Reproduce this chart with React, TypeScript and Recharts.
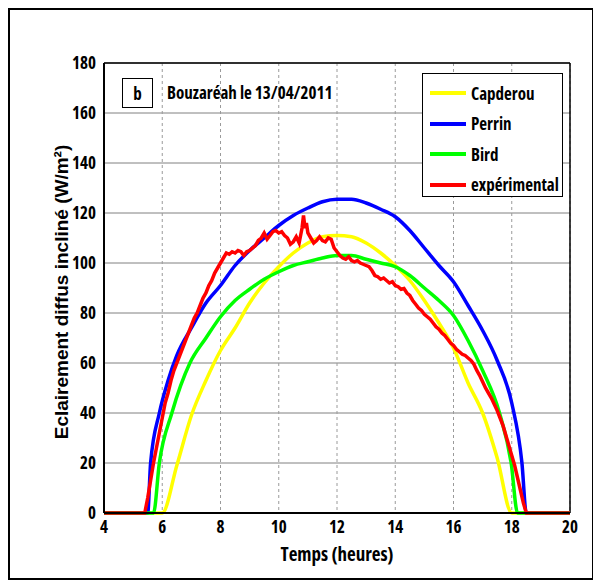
import { LineChart, Line, XAxis, YAxis, CartesianGrid, ReferenceLine } from 'recharts';

// axis ticks
const hourTicks = [4, 6, 8, 10, 12, 14, 16, 18, 20];
const valueTicks = [0, 20, 40, 60, 80, 100, 120, 140, 160, 180];

// Capderou model
const capderouT = [4, 6.0, 6.5, 7.0, 7.5, 8.0, 8.5, 9.0, 9.5, 10.0, 10.5, 11.0, 11.5, 12.0, 12.5, 13.0, 13.5, 14.0, 14.5, 15.0, 15.5, 16.0, 16.5, 17.0, 17.5, 18.0, 20];
const capderouV = [0, 0, 19, 39, 53, 65, 74, 84, 92, 98.5, 104, 108, 110.5, 111, 110.5, 108, 104, 99, 93, 85, 76, 66, 52, 40, 22, 0, 0];

// Perrin model
const perrinT = [4, 5.5, 5.6, 5.9, 6.2, 6.5, 7.0, 7.5, 8.0, 8.5, 9.0, 9.5, 10.0, 10.5, 11.0, 11.5, 12.0, 12.5, 13.0, 13.5, 14.0, 14.5, 15.0, 15.5, 16.0, 16.5, 17.0, 17.5, 18.0, 18.35, 18.5, 20];
const perrinV = [0, 0, 20, 40, 53, 63, 74, 84, 91, 99, 105, 110, 115, 119, 122, 124.5, 125.5, 125.5, 124, 121.5, 118.5, 113, 106, 99, 92.5, 83, 73, 61, 44, 20, 0, 0];

// Bird model
const birdT = [4, 5.7, 5.9, 6.33, 6.95, 7.5, 8.0, 8.5, 9.0, 9.5, 10.0, 10.5, 11.0, 11.5, 12.0, 12.5, 13.0, 13.5, 14.0, 14.5, 15.0, 15.5, 16.0, 16.5, 17.0, 17.58, 17.98, 18.2, 20];
const birdV = [0, 0, 20, 40, 60, 70, 78.5, 85, 89.5, 93.5, 96.5, 99, 100.5, 102, 103, 103, 101.5, 100, 98.5, 95, 90, 85, 79, 69, 57, 40, 20, 0, 0];

// experimental measurements
const expT = [
  4, 5.4, 5.5, 5.6, 5.7, 5.8, 5.9, 6.0, 6.1, 6.2, 6.3, 6.4, 6.5, 6.6, 6.7, 6.8, 6.9, 7.0, 7.1, 7.2, 7.3, 7.4, 7.5, 7.6, 7.7, 7.8, 7.9,
  8.0, 8.1, 8.2, 8.3, 8.4, 8.5, 8.6, 8.7, 8.8, 8.9, 9.0, 9.1, 9.2, 9.3, 9.4, 9.5, 9.6, 9.7, 9.8, 9.9,
  10.0, 10.1, 10.2, 10.3, 10.4, 10.5, 10.6, 10.7, 10.8, 10.85, 10.9, 10.95, 11.0, 11.1, 11.2, 11.3, 11.4, 11.5, 11.6, 11.7, 11.8, 11.9,
  12.0, 12.1, 12.2, 12.3, 12.4, 12.5, 12.6, 12.7, 12.8, 12.9, 13.0, 13.1, 13.2, 13.3, 13.4, 13.5, 13.6, 13.7, 13.8, 13.9,
  14.0, 14.1, 14.2, 14.3, 14.4, 14.5, 14.6, 14.7, 14.8, 14.9, 15.0, 15.1, 15.2, 15.3, 15.4, 15.5, 15.6, 15.7, 15.8, 15.9,
  16.0, 16.1, 16.2, 16.3, 16.4, 16.5, 16.6, 16.7, 16.8, 16.9, 17.0, 17.1, 17.2, 17.3, 17.4, 17.5, 17.6, 17.7, 17.8, 17.9,
  18.0, 18.1, 18.2, 18.3, 18.4, 18.5, 20,
];
const expV = [
  0, 0, 6, 13, 20, 26, 32, 38, 44, 48, 53, 57, 60, 63, 66, 69, 72, 75, 78, 80, 83, 86, 88, 91, 93, 96, 98,
  100, 102, 104, 103.5, 104.5, 104, 105, 104.5, 103, 104.5, 105, 106, 107, 109, 110, 112, 109.5, 111, 112.5, 113,
  112, 112.5, 111, 110, 107.5, 108.5, 110.5, 108, 114, 119, 114, 116, 112, 110, 108, 109, 110.5, 109, 108.5, 110, 109.5, 106,
  104.5, 103, 102, 101.5, 102.5, 101, 100.5, 101, 100, 99.5, 99, 98.5, 97, 95, 94.5, 93.5, 94, 93, 92, 92.5,
  91, 90.5, 89.5, 89.8, 88, 87, 85, 83.5, 82, 81, 79.5, 78.5, 77.5, 76, 74.5, 73.5, 72, 71, 69.5, 68,
  67, 65.5, 64.5, 63.5, 63, 62, 61, 59.5, 57, 55, 52.5, 50, 48, 46, 43.5, 41, 38, 35, 31, 27,
  23, 19, 14, 9, 4, 0, 0,
];

const zip = (t: number[], v: number[]) => t.map((x, i) => ({ t: x, v: v[i] }));

const series = [
  { name: 'Capderou', color: '#ffff00', data: zip(capderouT, capderouV), curve: 'monotone' },
  { name: 'Perrin', color: '#0000ff', data: zip(perrinT, perrinV), curve: 'monotone' },
  { name: 'Bird', color: '#00ff00', data: zip(birdT, birdV), curve: 'monotone' },
  { name: 'expérimental', color: '#ff0000', data: zip(expT, expV), curve: 'linear' },
];

const narrow = "'Open Sans', sans-serif";
const narrowText = { fontFamily: narrow, fontStretch: 'condensed', fontWeight: 700, color: '#000' } as const;
const tickStyle = { fontSize: 17, fontWeight: 700, fill: '#000', fontFamily: narrow, fontStretch: 'condensed' };

export default function App() {
  return (
    <div style={{ position: 'relative', width: 586, height: 572, border: '2px solid #000', boxSizing: 'border-box', background: '#fff' }}>
      <LineChart width={582} height={568} margin={{ top: 53, right: 22, bottom: 35, left: 0 }}>
        <CartesianGrid vertical={false} stroke="#808080" strokeWidth={1} />
        <CartesianGrid horizontal={false} stroke="#9a9a9a" strokeWidth={1} strokeDasharray="3 3" />
        <XAxis
          dataKey="t"
          type="number"
          domain={[4, 20]}
          ticks={hourTicks}
          allowDuplicatedCategory={false}
          tick={tickStyle}
          tickLine={false}
          axisLine={{ stroke: '#000', strokeWidth: 2 }}
          height={30}
          tickMargin={2}
        />
        {/* inward ticks on the top edge */}
        <XAxis
          xAxisId="top"
          orientation="top"
          dataKey="t"
          type="number"
          domain={[4, 20]}
          ticks={hourTicks}
          mirror
          tick={false}
          tickSize={4}
          tickLine={{ stroke: '#000' }}
          axisLine={false}
          height={0}
        />
        <YAxis
          type="number"
          domain={[0, 180]}
          ticks={valueTicks}
          tick={tickStyle}
          tickLine={false}
          axisLine={{ stroke: '#000', strokeWidth: 2 }}
          width={94}
          tickMargin={2}
        />
        {/* inward ticks on the right edge */}
        <YAxis
          yAxisId="right"
          orientation="right"
          type="number"
          domain={[0, 180]}
          ticks={valueTicks}
          mirror
          tick={false}
          tickSize={4}
          tickLine={{ stroke: '#000' }}
          axisLine={false}
          width={0}
        />
        <ReferenceLine y={180} stroke="#000" strokeWidth={1.5} />
        <ReferenceLine x={20} stroke="#000" strokeWidth={1.5} />
        {series.map(s => (
          <Line
            key={s.name}
            data={s.data}
            dataKey="v"
            name={s.name}
            stroke={s.color}
            strokeWidth={3.5}
            dot={false}
            type={s.curve as 'monotone' | 'linear'}
            isAnimationActive={false}
          />
        ))}
      </LineChart>

      {/* legend */}
      <div style={{ position: 'absolute', left: 412, top: 63, width: 141, height: 124, border: '1.5px solid #000', background: '#fff', boxSizing: 'border-box', padding: '4px 0 0 7px' }}>
        {series.map(s => (
          <div key={s.name} style={{ display: 'flex', alignItems: 'center', height: 30.5 }}>
            <div style={{ width: 36, height: 4, background: s.color, marginRight: 5 }} />
            <span style={{ ...narrowText, fontSize: 17 }}>{s.name}</span>
          </div>
        ))}
      </div>

      {/* panel tag and title */}
      <div style={{ position: 'absolute', left: 112, top: 68, width: 31, height: 30, border: '1px solid #000', boxSizing: 'border-box', ...narrowText, fontSize: 17, display: 'flex', alignItems: 'center', justifyContent: 'center', background: '#fff' }}>b</div>
      <div style={{ position: 'absolute', left: 157, top: 71, ...narrowText, fontSize: 17, whiteSpace: 'nowrap' }}>Bouzaréah le 13/04/2011</div>

      {/* axis titles */}
      <div style={{ position: 'absolute', left: 0, top: 531, width: 654, textAlign: 'center', ...narrowText, fontSize: 19, whiteSpace: 'nowrap' }}>Temps (heures)</div>
      <div style={{ position: 'absolute', left: 52, top: 283, width: 0, height: 0 }}>
        <div style={{ position: 'absolute', left: -200, top: -12, width: 400, textAlign: 'center', transform: 'rotate(-90deg)', fontFamily: "'Liberation Sans', Arial, sans-serif", fontWeight: 700, fontSize: 19, whiteSpace: 'nowrap' }}>
          Eclairement diffus incliné (W/m²)
        </div>
      </div>
    </div>
  );
}
